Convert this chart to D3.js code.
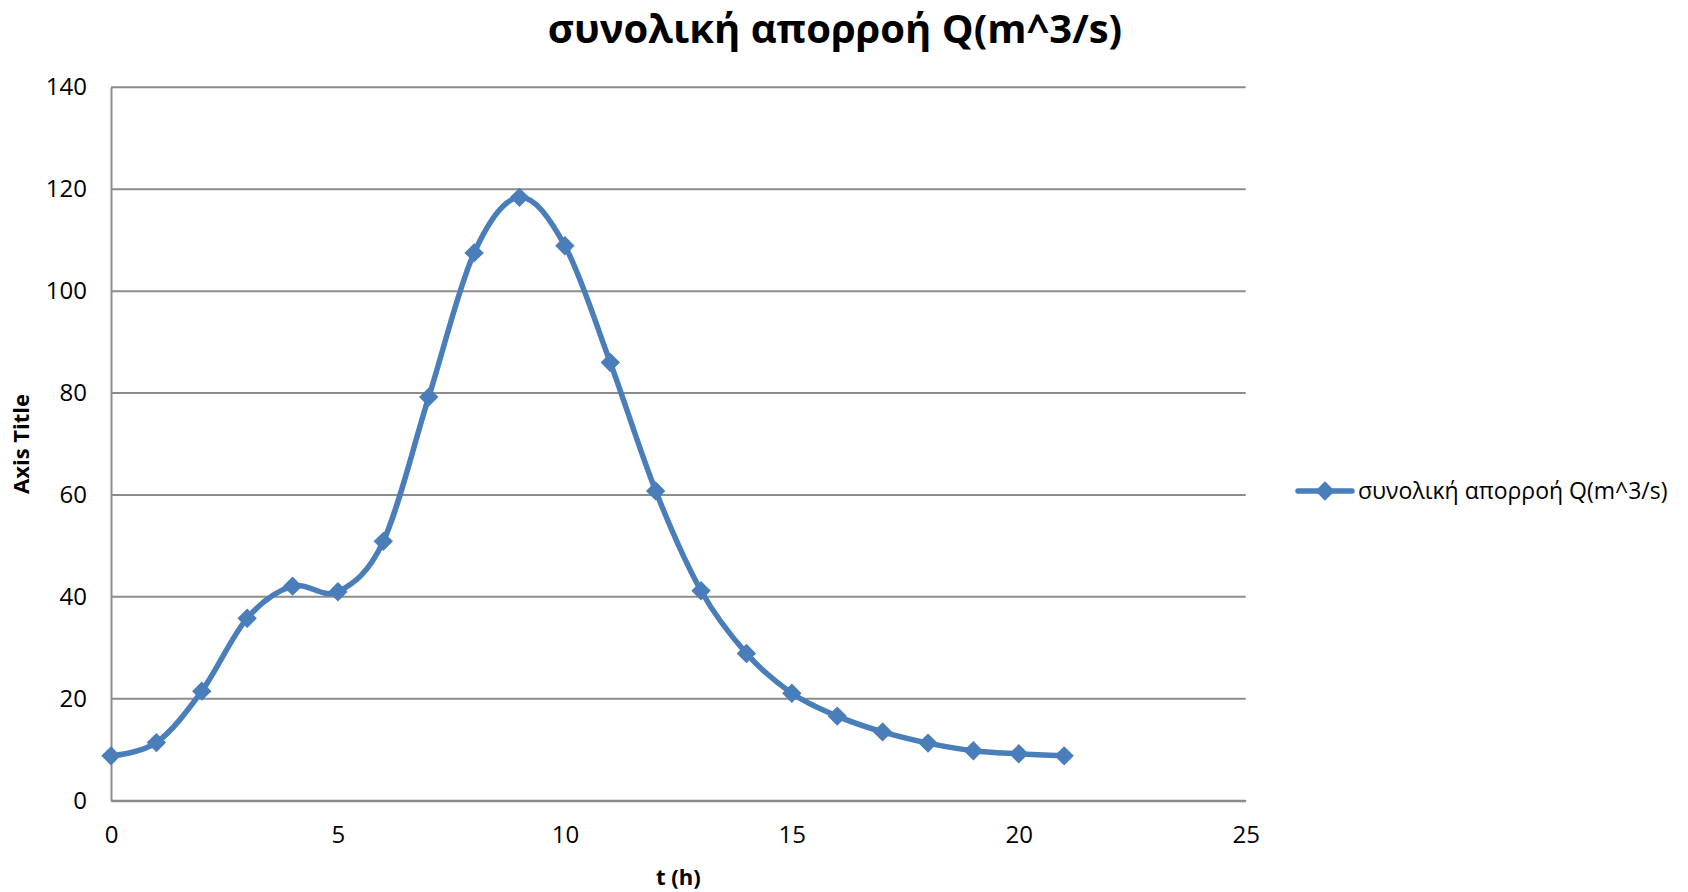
<!DOCTYPE html>
<html>
<head>
<meta charset="utf-8">
<script src="https://cdn.jsdelivr.net/npm/d3@7"></script>
<style>
  html, body { margin: 0; padding: 0; background: #fff; }
  svg { display: block; }
  text { font-family: "Open Sans", "Noto Sans", sans-serif; fill: #000; }
</style>
</head>
<body>
<svg id="chart" width="1688" height="892"></svg>
<script>
// Total runoff hydrograph, hourly values
const hours = [0, 1, 2, 3, 4, 5, 6, 7, 8, 9, 10, 11, 12, 13, 14, 15, 16, 17, 18, 19, 20, 21];
const runoff = [8.8, 11.4, 21.5, 35.8, 42.1, 41.0, 50.9, 79.2, 107.5, 118.4, 108.9, 86.0, 60.8, 41.2, 28.9, 21.1, 16.6, 13.5, 11.3, 9.8, 9.2, 8.8];
const xTicks = [0, 5, 10, 15, 20, 25];
const yTicks = [0, 20, 40, 60, 80, 100, 120, 140];
const seriesName = "συνολική απορροή Q(m^3/s)";
const chartTitle = "συνολική απορροή Q(m^3/s)";
const xTitle = "t (h)";
const yTitle = "Axis Title";

const svg = d3.select("#chart");
const plot = { left: 111, right: 1245.7, top: 87.3, bottom: 800.7 };
const blue = "#4A7EBB";
const grid = "#8C8C8C";

const x = d3.scaleLinear().domain([0, 25]).range([plot.left, plot.right]);
const y = d3.scaleLinear().domain([0, 140]).range([plot.bottom, plot.top]);

// Horizontal gridlines
svg.append("g")
  .selectAll("line")
  .data(yTicks)
  .join("line")
  .attr("x1", plot.left).attr("x2", plot.right)
  .attr("y1", d => y(d)).attr("y2", d => y(d))
  .attr("stroke", grid).attr("stroke-width", 2);

// Axes
const yAxis = svg.append("g")
  .attr("transform", `translate(${plot.left},0)`)
  .call(d3.axisLeft(y).tickValues(yTicks).tickSize(0).tickPadding(24));
yAxis.select(".domain").attr("stroke", grid).attr("stroke-width", 2);
yAxis.selectAll("text").style("font-size", "24px").style("font-family", "Open Sans, sans-serif").attr("fill", "#000");

const xAxis = svg.append("g")
  .attr("transform", `translate(0,${plot.bottom})`)
  .call(d3.axisBottom(x).tickValues(xTicks).tickSize(0).tickPadding(25));
xAxis.select(".domain").attr("stroke", grid).attr("stroke-width", 2);
xAxis.selectAll("text").style("font-size", "24px").style("font-family", "Open Sans, sans-serif").attr("fill", "#000");

// Smoothed series line
const line = d3.line()
  .x((d, i) => x(hours[i]))
  .y(d => y(d))
  .curve(d3.curveCardinal.tension(0));

svg.append("path")
  .datum(runoff)
  .attr("d", line)
  .attr("fill", "none")
  .attr("stroke", blue)
  .attr("stroke-width", 5.5)
  .attr("stroke-linejoin", "round")
  .attr("stroke-linecap", "round");

// Diamond markers
const diamond = d3.symbol().type(d3.symbolDiamond2).size(240);
svg.append("g")
  .selectAll("path")
  .data(runoff)
  .join("path")
  .attr("d", diamond)
  .attr("transform", (d, i) => `translate(${x(hours[i])},${y(d)})`)
  .attr("fill", blue);

// Title
svg.append("text")
  .attr("x", 835).attr("y", 43)
  .attr("text-anchor", "middle")
  .style("font-size", "40px").style("font-weight", "bold")
  .text(chartTitle);

// Axis titles
svg.append("text")
  .attr("x", (plot.left + plot.right) / 2).attr("y", 885)
  .attr("text-anchor", "middle")
  .style("font-size", "22px").style("font-weight", "bold")
  .text(xTitle);

svg.append("text")
  .attr("transform", `translate(29,${(plot.top + plot.bottom) / 2}) rotate(-90)`)
  .attr("text-anchor", "middle")
  .style("font-size", "22px").style("font-weight", "bold")
  .text(yTitle);

// Legend
const lg = svg.append("g").attr("transform", "translate(1298,491)");
lg.append("line").attr("x1", 0).attr("x2", 54).attr("y1", 0).attr("y2", 0)
  .attr("stroke", blue).attr("stroke-width", 5.5).attr("stroke-linecap", "round");
lg.append("path").attr("d", diamond).attr("transform", "translate(27,0)").attr("fill", blue);
lg.append("text").attr("x", 60).attr("y", 8)
  .style("font-size", "23px")
  .text(seriesName);
</script>
</body>
</html>
